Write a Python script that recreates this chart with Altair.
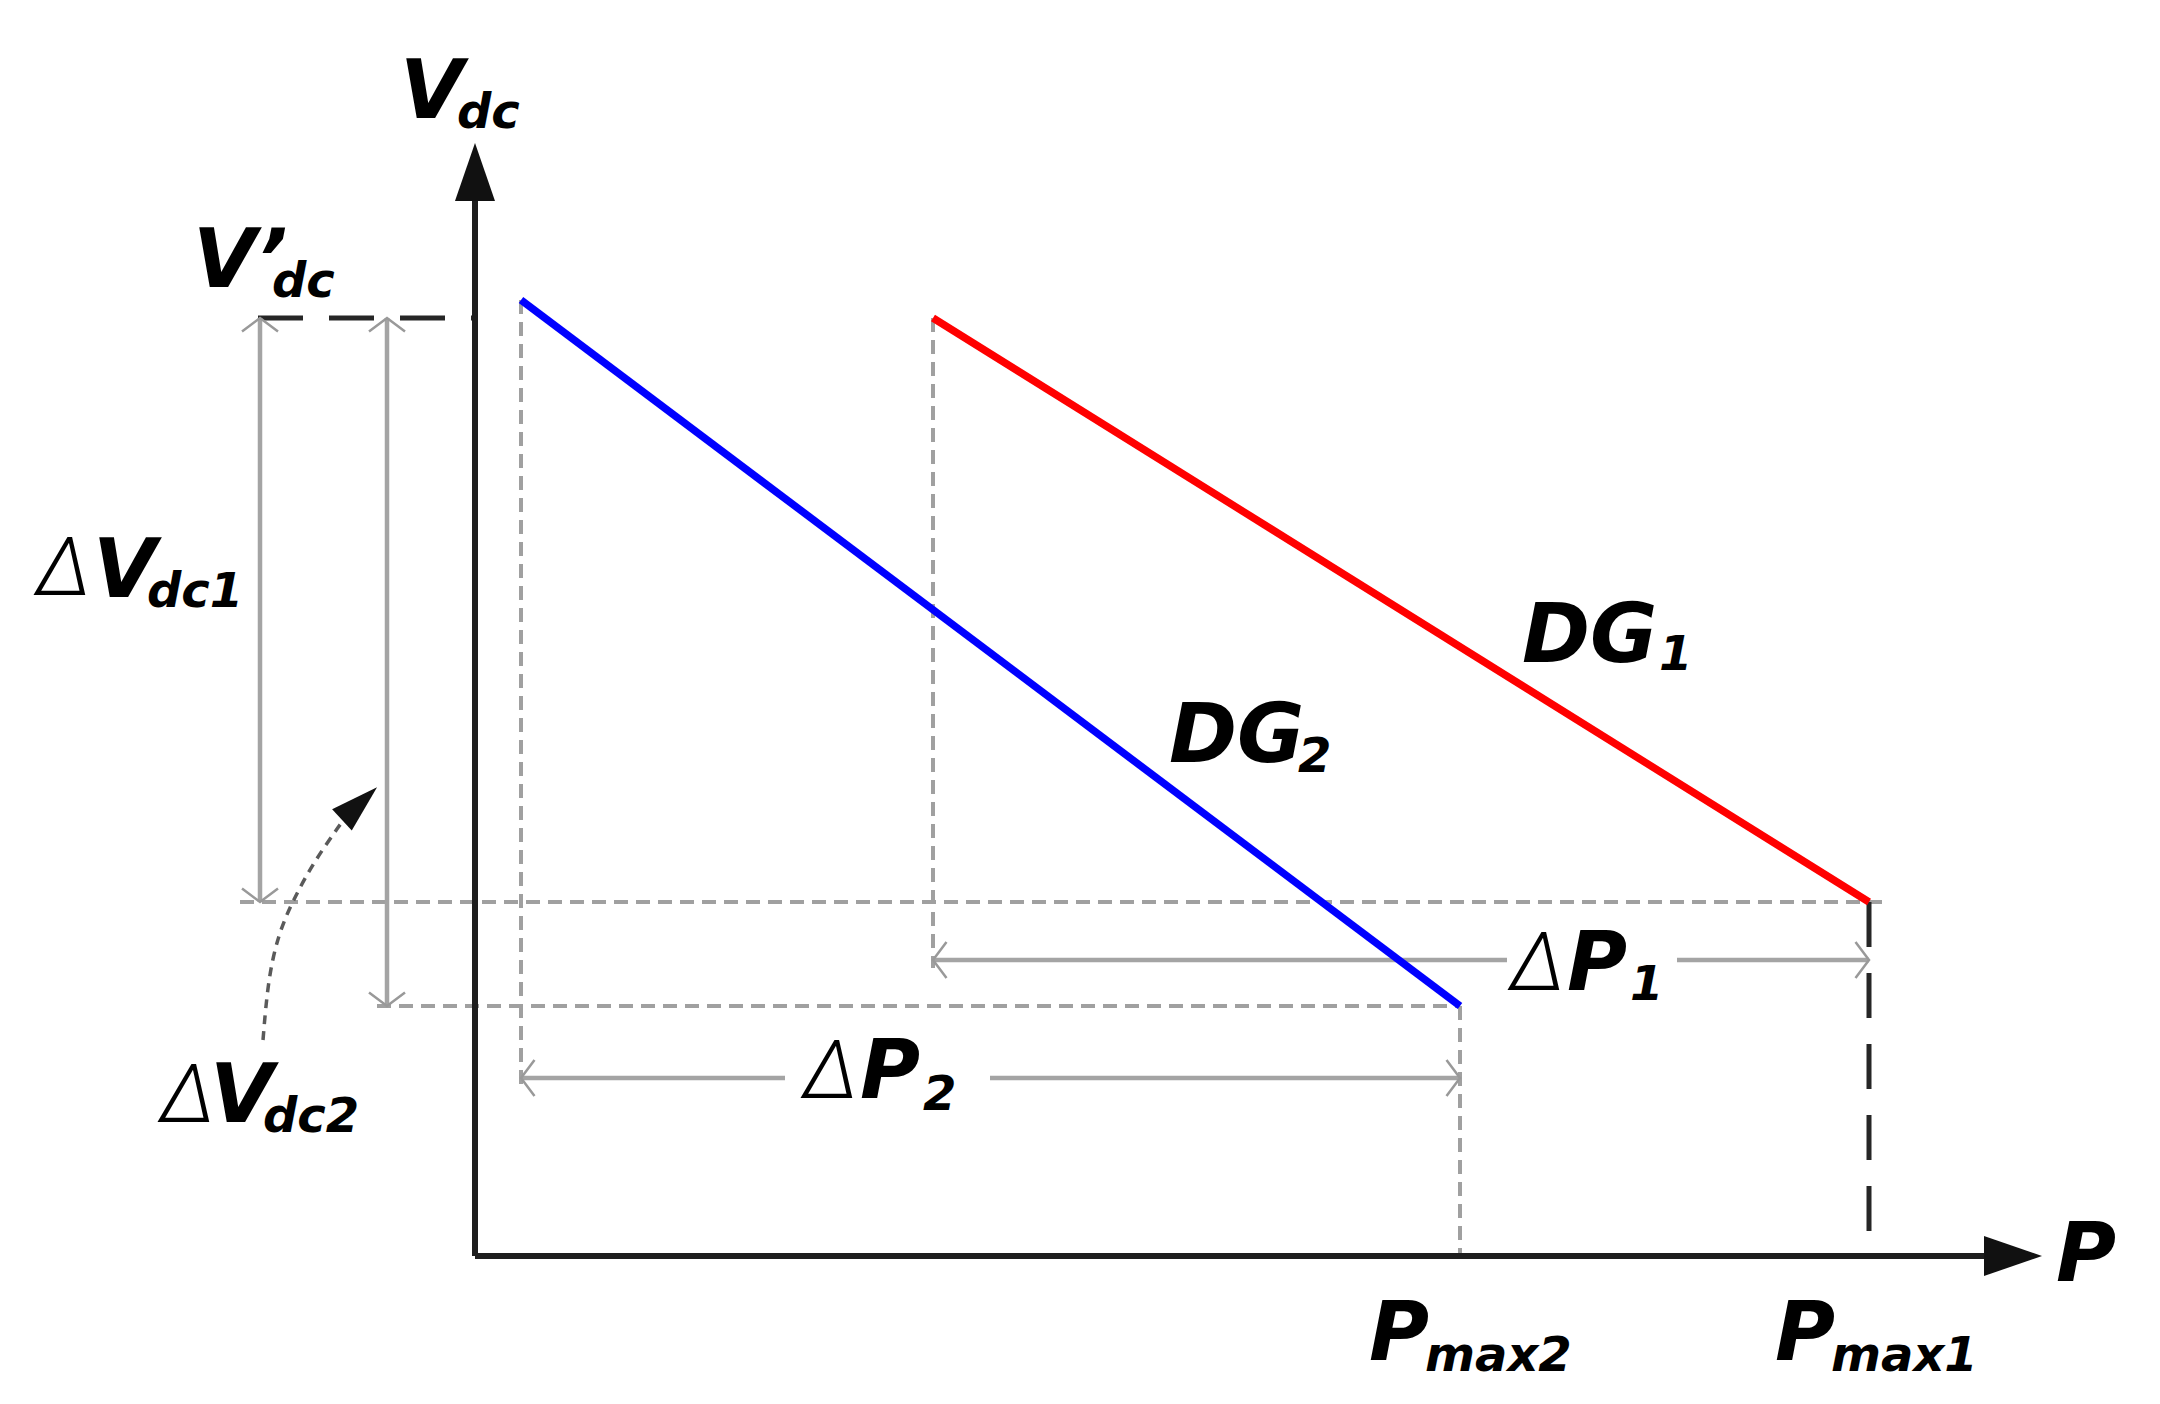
import altair as alt
import pandas as pd

W, H = 2140, 1380
X_DOMAIN = [-46.7, 167.3]
Y_DOMAIN = [-13.2, 124.8]

# droop characteristics (P, Vdc) in arbitrary units
dg_names = ["DG1", "DG2"]
dg_p_start = [45.8, 4.6]
dg_v_start = [93.8, 95.6]
dg_p_end = [139.4, 98.5]
dg_v_end = [35.4, 25.0]
dg_colors = ["#ff0000", "#0000ff"]

# light grey dashed projection lines
guide_x = [-23.5, -9.8, 4.6, 45.8, 98.5]
guide_y = [35.4, 25.0, 95.6, 93.8, 25.0]
guide_x2 = [141.5, 98.5, 4.6, 45.8, 98.5]
guide_y2 = [35.4, 25.0, 17.1, 28.8, 0.0]

# black long-dash lines (V'dc level and Pmax1)
bdash_x = [-21.7, 139.4]
bdash_y = [93.8, 35.4]
bdash_x2 = [0.0, 139.4]
bdash_y2 = [93.8, 2.3]

# dimension arrows (grey, solid, split around labels)
dim_x = [-21.5, -8.8, 45.8, 120.2, 4.6, 51.5]
dim_y = [93.8, 93.8, 29.6, 29.6, 17.8, 17.8]
dim_x2 = [-21.5, -8.8, 103.2, 139.4, 31.0, 98.5]
dim_y2 = [35.4, 25.0, 29.6, 29.6, 17.8, 17.8]

# open arrow heads at ends of dimension arrows
head_x = [-21.5, -21.5, -8.8, -8.8, 45.8, 139.4, 4.6, 98.5]
head_y = [93.8, 35.4, 93.8, 25.0, 29.6, 29.6, 17.8, 17.8]
head_angle = [0, 180, 0, 180, 270, 90, 270, 90]

# axes
axis_x = [0.0, 0.0]
axis_y = [0.0, 0.0]
axis_x2 = [0.0, 152.0]
axis_y2 = [106.5, 0.0]
axis_head_x = [0.0, 153.8]
axis_head_y = [108.4, 0.0]
axis_head_angle = [0, 90]

# curved pointer from label to the ΔVdc2 arrow
curve_x = [-21.2, -20.7, -19.7, -18.2, -16.0, -13.3]
curve_y = [21.6, 27.6, 32.1, 35.6, 39.6, 43.4]
curve_head_x = [-11.55]
curve_head_y = [45.25]
curve_head_angle = [47]

# labels
main_text = ["V", "V\u2019", "V", "V", "DG", "DG", "P", "P", "P", "P", "P"]
main_x = [-7.5, -28.2, -38.2, -26.5, 104.7, 69.4, 109.2, 38.5, 89.4, 130.0, 158.1]
main_y = [113.8, 96.9, 65.9, 13.4, 59.4, 49.4, 26.6, 15.8, -10.4, -10.4, -2.5]

sub_text = ["dc", "dc", "dc1", "dc2", "1", "2", "1", "2", "max2", "max1"]
sub_x = [-1.8, -20.3, -32.8, -21.2, 118.4, 82.3, 115.5, 44.8, 95.0, 135.6]
sub_y = [112.8, 95.9, 64.9, 12.4, 58.6, 48.4, 25.6, 14.6, -11.5, -11.5]

delta_text = ["\u0394", "\u0394", "\u0394", "\u0394"]
delta_x = [-43.9, -31.5, 103.5, 32.8]
delta_y = [66.1, 13.4, 26.6, 15.8]

xs = alt.Scale(domain=X_DOMAIN, nice=False, zero=False)
ys = alt.Scale(domain=Y_DOMAIN, nice=False, zero=False)


def X(f="x"):
    return alt.X(f"{f}:Q", scale=xs, axis=None)


def Y(f="y"):
    return alt.Y(f"{f}:Q", scale=ys, axis=None)


def seg_layer(x, y, x2, y2, **mark):
    df = pd.DataFrame({"x": x, "y": y, "x2": x2, "y2": y2})
    return alt.Chart(df).mark_rule(**mark).encode(
        x=X(), y=Y(), x2="x2:Q", y2="y2:Q"
    )


guides = seg_layer(guide_x, guide_y, guide_x2, guide_y2,
                   color="#a0a0a0", strokeWidth=4, strokeDash=[14, 8])
bdash = seg_layer(bdash_x, bdash_y, bdash_x2, bdash_y2,
                  color="#262626", strokeWidth=5, strokeDash=[45, 26])
dims = seg_layer(dim_x, dim_y, dim_x2, dim_y2,
                 color="#a4a4a4", strokeWidth=4.5)
axes = seg_layer(axis_x, axis_y, axis_x2, axis_y2,
                 color="#1e1e1e", strokeWidth=6)

heads = alt.Chart(pd.DataFrame({"x": head_x, "y": head_y, "a": head_angle})).mark_point(
    shape="M-1,0.75L0,0L1,0.75", filled=False, stroke="#999999", strokeWidth=2.5,
    size=36 * 36, opacity=1
).encode(x=X(), y=Y(), angle=alt.Angle("a:Q", scale=None))

axis_heads = alt.Chart(pd.DataFrame({"x": axis_head_x, "y": axis_head_y, "a": axis_head_angle})).mark_point(
    shape="M0,-1L0.69,1L-0.69,1Z", filled=True, color="#111111", size=58 * 58, opacity=1
).encode(x=X(), y=Y(), angle=alt.Angle("a:Q", scale=None))

dg_df = pd.DataFrame({
    "name": dg_names + dg_names,
    "x": dg_p_start + dg_p_end,
    "y": dg_v_start + dg_v_end,
    "color": dg_colors + dg_colors,
})
dg_lines = alt.Chart(dg_df).mark_line(strokeWidth=7.5, strokeCap="butt").encode(
    x=X(), y=Y(), detail="name:N",
    color=alt.Color("color:N", scale=None),
)

curve = alt.Chart(pd.DataFrame({"x": curve_x, "y": curve_y, "o": list(range(len(curve_x)))})).mark_line(
    interpolate="basis", color="#5a5a5a", strokeWidth=3.5, strokeDash=[9, 7]
).encode(x=X(), y=Y(), order="o:Q")

curve_head = alt.Chart(pd.DataFrame({"x": curve_head_x, "y": curve_head_y, "a": curve_head_angle})).mark_point(
    shape="M0,-1L0.6,1L-0.6,1Z", filled=True, color="#111111", size=48 * 48, opacity=1
).encode(x=X(), y=Y(), angle=alt.Angle("a:Q", scale=None))

FONT = "DejaVu Sans"
main = alt.Chart(pd.DataFrame({"x": main_x, "y": main_y, "t": main_text})).mark_text(
    font=FONT, fontSize=82, fontWeight="bold", fontStyle="italic",
    align="left", baseline="alphabetic", color="#000000"
).encode(x=X(), y=Y(), text="t:N")

sub = alt.Chart(pd.DataFrame({"x": sub_x, "y": sub_y, "t": sub_text})).mark_text(
    font=FONT, fontSize=48, fontWeight="bold", fontStyle="italic",
    align="left", baseline="alphabetic", color="#000000"
).encode(x=X(), y=Y(), text="t:N")

delta = alt.Chart(pd.DataFrame({"x": delta_x, "y": delta_y, "t": delta_text})).mark_text(
    font="Roboto", fontSize=82, fontWeight=300, fontStyle="italic",
    align="left", baseline="alphabetic", color="#000000"
).encode(x=X(), y=Y(), text="t:N")

chart = alt.layer(
    guides, bdash, dims, heads, curve, curve_head, dg_lines, axes, axis_heads,
    main, sub, delta
).properties(
    width=W, height=H, padding=0, autosize="none"
).configure(background="white", view=alt.ViewConfig(stroke=None))

chart.save("out.html", embed_options={"renderer": "svg", "actions": False})
